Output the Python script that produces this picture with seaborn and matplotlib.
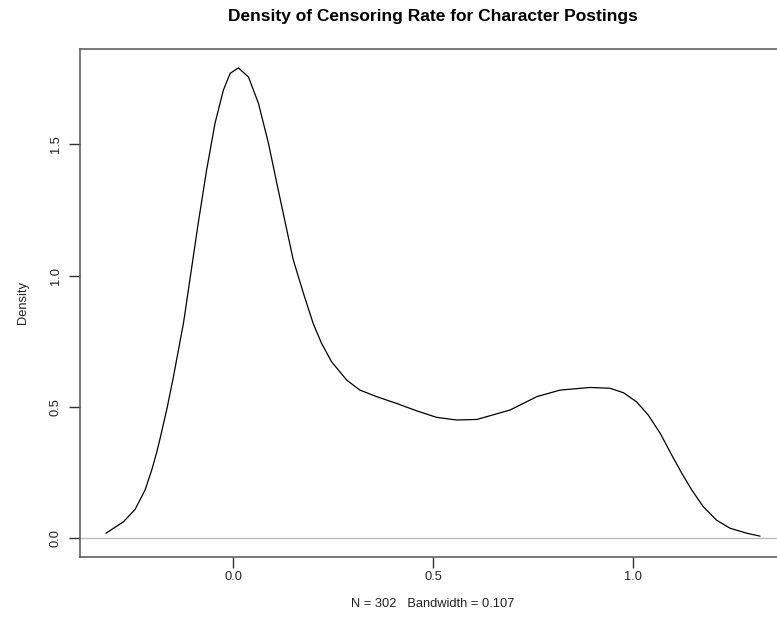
import matplotlib
matplotlib.use("Agg")
import matplotlib.pyplot as plt
import seaborn as sns
import pandas as pd

# Kernel density estimate of the censoring rate (evaluated grid)
rate = [-0.319, -0.275, -0.246, -0.221, -0.204, -0.192, -0.184, -0.167, -0.150,
        -0.133, -0.125, -0.088, -0.067, -0.046, -0.025, -0.008, 0.0125, 0.038,
        0.063, 0.088, 0.109, 0.134, 0.150, 0.177, 0.200, 0.221, 0.246, 0.284,
        0.317, 0.359, 0.409, 0.459, 0.509, 0.559, 0.610, 0.693, 0.760, 0.818,
        0.893, 0.943, 0.977, 1.010, 1.039, 1.069, 1.098, 1.123, 1.148, 1.177,
        1.210, 1.244, 1.286, 1.319]
density = [0.017, 0.061, 0.108, 0.182, 0.260, 0.325, 0.375, 0.487, 0.614,
           0.753, 0.817, 1.199, 1.402, 1.580, 1.707, 1.771, 1.792, 1.757,
           1.656, 1.504, 1.351, 1.173, 1.060, 0.925, 0.817, 0.741, 0.671, 0.601,
           0.563, 0.538, 0.512, 0.484, 0.459, 0.449, 0.451, 0.487, 0.538, 0.563,
           0.573, 0.570, 0.553, 0.518, 0.468, 0.398, 0.315, 0.246, 0.182, 0.118,
           0.067, 0.036, 0.017, 0.006]

x_ticks = [0.0, 0.5, 1.0]
x_tick_labels = ["0.0", "0.5", "1.0"]
y_ticks = [0.0, 0.5, 1.0, 1.5]
y_tick_labels = ["0.0", "0.5", "1.0", "1.5"]

title = "Density of Censoring Rate for Character Postings"
x_label = "N = 302   Bandwidth = 0.107"
y_label = "Density"

sns.set_style("white")
plt.rcParams["font.family"] = ["Liberation Sans", "DejaVu Sans"]

W, H = 777, 627
fig = plt.figure(figsize=(W / 100, H / 100), dpi=100)
left, right, top, bottom = 80, 786, 49, 556.5
ax = fig.add_axes([left / W, (H - bottom) / H, (right - left) / W, (bottom - top) / H])

df = pd.DataFrame({"rate": rate, "density": density})
ax.axhline(0, color="#bdbdbd", lw=1, zorder=1)
sns.lineplot(data=df, x="rate", y="density", color="black", lw=0.9, ax=ax,
             sort=False, zorder=2)

ax.set_xlim(-0.384, 1.384)
ax.set_ylim(-0.0717, 1.864)

ax.set_xticks(x_ticks)
ax.set_xticklabels(x_tick_labels)
ax.set_yticks(y_ticks)
ax.set_yticklabels(y_tick_labels, rotation=90, va="center")
ax.tick_params(axis="both", direction="out", length=8, width=1, color="#333333",
               labelsize=9.3, labelcolor="#222222", left=True, bottom=True)
ax.tick_params(axis="x", pad=2.5)
ax.tick_params(axis="y", pad=5)

for s in ax.spines.values():
    s.set_visible(True)
    s.set_color("#555555")
    s.set_linewidth(1.1)

ax.set_xlabel(x_label, fontsize=9.3, color="#222222", labelpad=11)
ax.set_ylabel(y_label, fontsize=9.3, color="#222222", labelpad=15)
fig.text(433 / W, 1 - 16 / H, title, ha="center", va="center",
         fontsize=12.5, fontweight="bold", color="black")

fig.savefig("out.png", dpi=100, facecolor="white")
